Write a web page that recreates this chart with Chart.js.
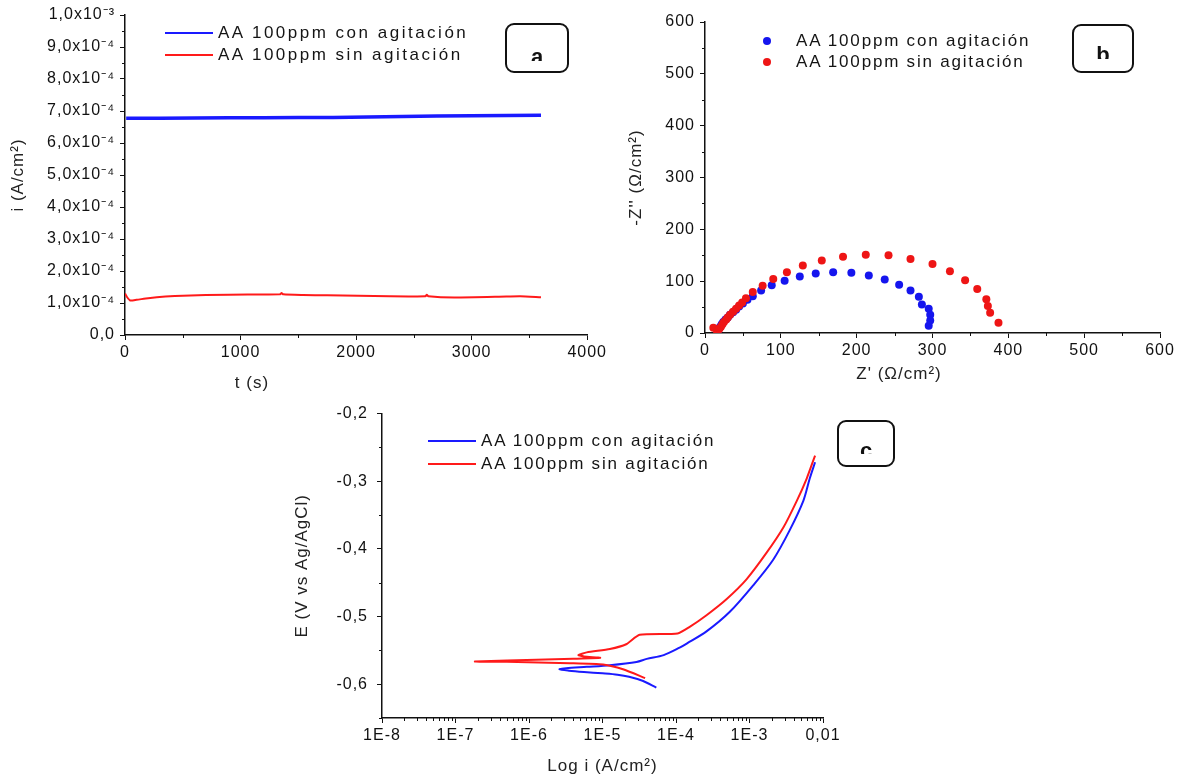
<!DOCTYPE html>
<html>
<head>
<meta charset="utf-8">
<script src="https://cdn.jsdelivr.net/npm/chart.js@4.4.1/dist/chart.umd.min.js"></script>
<style>
  body { margin: 0; background: #fff; width: 1186px; height: 777px; position: relative; overflow: hidden; font-family: "Liberation Sans", Arial, sans-serif; }
  canvas { position: absolute; }
  .leg { position: absolute; font-size: 17px; letter-spacing: 1.8px; color: #141414; white-space: nowrap; line-height: 18px; }
  .leg.wide { letter-spacing: 2.5px; }
  .leg i { position: absolute; display: block; }
  .ttl { position: absolute; font-size: 17px; letter-spacing: 1px; color: #222; white-space: nowrap; transform: translate(-50%, -50%); }
  .tag { position: absolute; border: 2px solid #111; border-radius: 9px; background: #fff; }
  .tag .clip { position: absolute; left: 0; right: 0; top: 0; overflow: hidden; }
  .tag .clip span { position: absolute; left: 0; right: 0; text-align: center; font: bold 22px "Liberation Sans", Arial, sans-serif; line-height: 22px; color: #111; }
</style>
</head>
<body>
<canvas id="chartA" width="610" height="395" style="left:0;top:0"></canvas>
<canvas id="chartB" width="576" height="395" style="left:610px;top:0"></canvas>
<canvas id="chartC" width="600" height="382" style="left:280px;top:395px"></canvas>

<!-- leyendas -->
<div class="leg wide" style="left:165px;top:24px"><i style="left:0;top:8px;width:48px;height:2px;background:#1a1aff"></i><span style="margin-left:53px">AA 100ppm con agitación</span></div>
<div class="leg wide" style="left:165px;top:46px"><i style="left:0;top:8px;width:48px;height:2px;background:#ff1a1a"></i><span style="margin-left:53px">AA 100ppm sin agitación</span></div>

<div class="leg" style="left:763px;top:32px"><i style="left:0;top:5px;width:8px;height:8px;border-radius:50%;background:#1515ee"></i><span style="margin-left:33px">AA 100ppm con agitación</span></div>
<div class="leg" style="left:763px;top:53px"><i style="left:0;top:5px;width:8px;height:8px;border-radius:50%;background:#ee1515"></i><span style="margin-left:33px">AA 100ppm sin agitación</span></div>

<div class="leg" style="left:428px;top:432px"><i style="left:0;top:8px;width:48px;height:2px;background:#1a1aff"></i><span style="margin-left:53px">AA 100ppm con agitación</span></div>
<div class="leg" style="left:428px;top:455px"><i style="left:0;top:8px;width:48px;height:2px;background:#ff1a1a"></i><span style="margin-left:53px">AA 100ppm sin agitación</span></div>

<!-- títulos de eje x de (a) y (b) -->
<div class="ttl" style="left:252px;top:383px">t (s)</div>
<div class="ttl" style="left:899px;top:374px">Z' (Ω/cm²)</div>

<!-- etiquetas de panel -->
<div class="tag" style="left:505px;top:23px;width:60px;height:46px"><div class="clip" style="height:36px"><span style="top:21px">a</span></div></div>
<div class="tag" style="left:1072px;top:24px;width:58px;height:45px"><div class="clip" style="height:33px"><span style="top:18px">b</span></div></div>
<div class="tag" style="left:837px;top:420px;width:54px;height:43px"><div class="clip" style="height:32px"><span style="top:18px">c</span></div></div>

<script>
// ===== (a) cronoamperometría =====
const tBlue = [10, 300, 600, 900, 1200, 1500, 1800, 2100, 2400, 2700, 3000, 3300, 3600];
const iBlue = [6.77e-4, 6.77e-4, 6.78e-4, 6.79e-4, 6.79e-4, 6.80e-4, 6.80e-4, 6.81e-4, 6.83e-4, 6.84e-4, 6.85e-4, 6.86e-4, 6.87e-4];
const tRed = [0, 15, 45, 100, 200, 350, 500, 900, 1340, 1355, 1370, 1540, 1750, 2290, 2600, 2612, 2625, 2850, 3300, 3420, 3600];
const iRed = [1.30e-4, 1.20e-4, 1.08e-4, 1.10e-4, 1.15e-4, 1.20e-4, 1.23e-4, 1.26e-4, 1.27e-4, 1.31e-4, 1.27e-4, 1.25e-4, 1.24e-4, 1.21e-4, 1.21e-4, 1.26e-4, 1.21e-4, 1.17e-4, 1.20e-4, 1.21e-4, 1.18e-4];
const aXTicks = [0, 1000, 2000, 3000, 4000];
const aYTicks = [0, 1e-4, 2e-4, 3e-4, 4e-4, 5e-4, 6e-4, 7e-4, 8e-4, 9e-4, 1e-3];
const aYLabels = ['0,0', '1,0x10⁻⁴', '2,0x10⁻⁴', '3,0x10⁻⁴', '4,0x10⁻⁴', '5,0x10⁻⁴', '6,0x10⁻⁴', '7,0x10⁻⁴', '8,0x10⁻⁴', '9,0x10⁻⁴', '1,0x10⁻³'];

// ===== (b) Nyquist =====
const zReBlue = [17, 18, 20, 22, 24, 27, 30, 33, 37, 41, 45, 50, 56, 63, 74, 88, 105, 125, 146, 169, 193, 216, 237, 256, 271, 282, 286, 295, 297, 297, 295];
const zImBlue = [4, 8, 12, 17, 21, 26, 30, 35, 40, 45, 51, 57, 64, 71, 82, 92, 101, 109, 115, 117, 116, 111, 103, 93, 82, 70, 55, 47, 35, 24, 14];
const zReRed = [11, 16, 17, 19, 21, 23, 25, 28, 30, 33, 37, 41, 45, 49, 54, 63, 76, 90, 108, 129, 154, 182, 212, 242, 271, 300, 323, 343, 359, 371, 373, 376, 387];
const zImRed = [10, 2, 5, 8, 12, 17, 21, 26, 30, 35, 41, 47, 53, 59, 67, 79, 91, 104, 117, 130, 140, 147, 151, 150, 143, 133, 119, 102, 85, 65, 52, 39, 20];
const bTicks = [0, 100, 200, 300, 400, 500, 600];

// ===== (c) Tafel =====
const iPolBlue = [5.4e-5, 3.5e-5, 2.3e-5, 1.6e-5, 1.0e-5, 5.6e-6, 3.5e-6, 2.6e-6, 3.2e-6, 6.1e-6, 1.26e-5, 2.9e-5, 4.0e-5, 6.8e-5, 1.12e-4, 1.4e-4, 2.6e-4, 5.4e-4, 1.12e-3, 2.1e-3, 3.5e-3, 5.4e-3, 6.6e-3, 7.8e-3];
const ePolBlue = [-0.605, -0.595, -0.589, -0.586, -0.584, -0.582, -0.580, -0.578, -0.5765, -0.5744, -0.5719, -0.5671, -0.5626, -0.557, -0.546, -0.540, -0.522, -0.493, -0.454, -0.416, -0.373, -0.329, -0.296, -0.272];
const iPolRed = [7.8e-3, 6.0e-3, 4.4e-3, 2.9e-3, 1.7e-3, 9.1e-4, 4.9e-4, 2.6e-4, 1.5e-4, 1.05e-4, 3.2e-5, 2.1e-5, 1.26e-5, 6.1e-6, 4.7e-6, 5.6e-6, 9.3e-6, 4.0e-6, 1.26e-6, 1.84e-7, 5.0e-7, 3.6e-6, 1.02e-5, 1.9e-5, 3.8e-5];
const ePolRed = [-0.262, -0.296, -0.329, -0.368, -0.406, -0.445, -0.474, -0.498, -0.516, -0.525, -0.527, -0.541, -0.548, -0.553, -0.557, -0.559, -0.561, -0.5625, -0.564, -0.5665, -0.567, -0.569, -0.571, -0.578, -0.591];
const cXTicks = [1e-8, 1e-7, 1e-6, 1e-5, 1e-4, 1e-3, 1e-2];
const cXLabels = ['1E-8', '1E-7', '1E-6', '1E-5', '1E-4', '1E-3', '0,01'];
const cYTicks = [-0.6, -0.5, -0.4, -0.3, -0.2];
const cYLabels = ['-0,6', '-0,5', '-0,4', '-0,3', '-0,2'];

const BLUE = '#1a1aff';
const RED = '#ff1a1a';
const FONT = '"Liberation Sans", Arial, sans-serif';

const pairs = (xs, ys) => xs.map((x, k) => ({ x: x, y: ys[k] }));

// texto del canvas algo más espaciado
const spacing = {
    id: 'spacing',
    afterInit(chart) { chart.ctx.letterSpacing = '1px'; },
    beforeUpdate(chart) { chart.ctx.letterSpacing = '1px'; }
};

// marcas menores en los ejes (hacia fuera)
const minorTicks = {
    id: 'minorTicks',
    afterDraw(chart, args, opts) {
        const ctx = chart.ctx;
        const xs = chart.scales.x, ys = chart.scales.y;
        ctx.save();
        ctx.strokeStyle = '#111';
        ctx.lineWidth = 1;
        ctx.beginPath();
        (opts.x || []).forEach(v => {
            const px = Math.round(xs.getPixelForValue(v)) + 0.5;
            ctx.moveTo(px, xs.top);
            ctx.lineTo(px, xs.top + 3);
        });
        (opts.y || []).forEach(v => {
            const py = Math.round(ys.getPixelForValue(v)) + 0.5;
            ctx.moveTo(ys.right, py);
            ctx.lineTo(ys.right - 3, py);
        });
        ctx.stroke();
        ctx.restore();
    }
};
Chart.register(spacing, minorTicks);

function axis(opts) {
    return {
        type: opts.type || 'linear',
        min: opts.min,
        max: opts.max,
        afterFit: s => { if (s.isHorizontal()) s.height = opts.size; else s.width = opts.size; },
        afterBuildTicks: s => { s.ticks = opts.ticks.map(v => ({ value: v })); },
        ticks: {
            autoSkip: false,
            maxRotation: 0,
            padding: opts.pad,
            color: '#111',
            font: { family: FONT, size: 16 },
            callback: (v, k) => opts.labels ? opts.labels[k] : v
        },
        grid: { drawOnChartArea: false, drawTicks: true, tickLength: 5, color: '#111', lineWidth: 1 },
        border: { display: true, color: '#111', width: 1.5 },
        title: {
            display: !!opts.title,
            text: opts.title,
            color: '#222',
            font: { family: FONT, size: 17 },
            padding: opts.titlePad
        }
    };
}

const base = {
    responsive: false,
    animation: false,
    events: [],
    plugins: { legend: { display: false }, tooltip: { enabled: false } }
};

// posiciones de las marcas menores
const aXMinor = [500, 1500, 2500, 3500];
const aYMinor = [];
for (let k = 0; k < 10; k++) aYMinor.push((k + 0.5) * 1e-4);
const bMinor = [50, 150, 250, 350, 450, 550];
const cXMinor = [];
for (let d = -8; d < -2; d++) for (let m = 2; m <= 9; m++) cXMinor.push(m * Math.pow(10, d));
const cYMinor = [-0.25, -0.35, -0.45, -0.55, -0.65];

new Chart(document.getElementById('chartA'), {
    type: 'line',
    data: {
        datasets: [
            { data: pairs(tRed, iRed), borderColor: RED, borderWidth: 2, pointRadius: 0, tension: 0.2 },
            { data: pairs(tBlue, iBlue), borderColor: BLUE, borderWidth: 3.5, pointRadius: 0, tension: 0 }
        ]
    },
    options: Object.assign({}, base, {
        layout: { padding: { left: 0, top: 15, right: 17, bottom: 0 } },
        scales: {
            x: axis({ min: 0, max: 4000, ticks: aXTicks, size: 60, pad: 3 }),
            y: axis({ min: 0, max: 1e-3, ticks: aYTicks, labels: aYLabels, size: 125, pad: 5, title: 'i (A/cm²)', titlePad: { top: 8, bottom: 0 } })
        },
        plugins: Object.assign({}, base.plugins, { minorTicks: { x: aXMinor, y: aYMinor } })
    })
});

new Chart(document.getElementById('chartB'), {
    type: 'scatter',
    data: {
        datasets: [
            { data: pairs(zReRed, zImRed), backgroundColor: '#ee1515', borderWidth: 0, pointRadius: 4 },
            { data: pairs(zReBlue, zImBlue), backgroundColor: '#1515ee', borderWidth: 0, pointRadius: 4 }
        ]
    },
    options: Object.assign({}, base, {
        layout: { padding: { left: 0, top: 22, right: 26, bottom: 0 } },
        scales: {
            x: axis({ min: 0, max: 600, ticks: bTicks, size: 62, pad: 3 }),
            y: axis({ min: 0, max: 600, ticks: bTicks, size: 95, pad: 5, title: "-Z'' (Ω/cm²)", titlePad: { top: 16, bottom: 0 } })
        },
        plugins: Object.assign({}, base.plugins, { minorTicks: { x: bMinor, y: bMinor } })
    })
});

new Chart(document.getElementById('chartC'), {
    type: 'line',
    data: {
        datasets: [
            { data: pairs(iPolRed, ePolRed), borderColor: RED, borderWidth: 2, pointRadius: 0, tension: 0.2 },
            { data: pairs(iPolBlue, ePolBlue), borderColor: BLUE, borderWidth: 2, pointRadius: 0, tension: 0.3 }
        ]
    },
    options: Object.assign({}, base, {
        layout: { padding: { left: 0, top: 12, right: 57, bottom: 0 } },
        scales: {
            x: axis({ type: 'logarithmic', min: 1e-8, max: 1e-2, ticks: cXTicks, labels: cXLabels, size: 59, pad: 3, title: 'Log i (A/cm²)', titlePad: { top: 0, bottom: 0 } }),
            y: axis({ min: -0.65, max: -0.2, ticks: cYTicks, labels: cYLabels, size: 102, pad: 9, title: 'E (V vs Ag/AgCl)', titlePad: { top: 12, bottom: 0 } })
        },
        plugins: Object.assign({}, base.plugins, { minorTicks: { x: cXMinor, y: cYMinor } })
    })
});
</script>
</body>
</html>
